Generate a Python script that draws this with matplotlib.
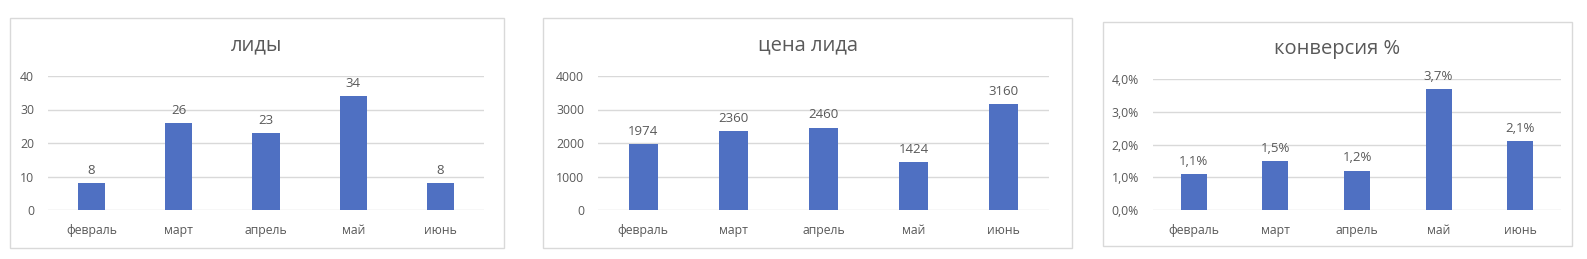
import matplotlib
matplotlib.use("Agg")
import matplotlib.pyplot as plt
from matplotlib.patches import Rectangle
from matplotlib.ticker import FuncFormatter

plt.rcParams['font.family'] = ['Open Sans', 'DejaVu Sans']

months = ["февраль", "март", "апрель", "май", "июнь"]
leads = [8, 26, 23, 34, 8]
lead_price = [1974, 2360, 2460, 1424, 3160]
conversion = [1.1, 1.5, 1.2, 3.7, 2.1]  # percent

titles = ["лиды", "цена лида", "конверсия %"]

BAR = "#4F70C2"
TXT = "#595959"
GRID = "#D9D9D9"

W, H = 1587, 259
fig = plt.figure(figsize=(W / 100, H / 100), dpi=100)

def px_axes(x0, x1, ytop, ybot):
    return fig.add_axes([x0 / W, (H - ybot) / H, (x1 - x0) / W, (ybot - ytop) / H])

def border(x0, x1, ytop, ybot):
    fig.patches.append(Rectangle((x0 / W, (H - ybot) / H), (x1 - x0) / W, (ybot - ytop) / H,
                                 transform=fig.transFigure, fill=False, edgecolor=GRID, lw=1.0))

specs = [
    dict(box=(10, 504, 18, 248), ax=(48, 484, 76, 210), data=leads, ylim=40, step=10,
         fmt=lambda v: f"{int(v)}", lab=lambda v: f"{v}", title_y=45, bw=0.31),
    dict(box=(543, 1072, 18, 248), ax=(598, 1049, 76, 210), data=lead_price, ylim=4000, step=1000,
         fmt=lambda v: f"{int(v)}", lab=lambda v: f"{v}", title_y=45, bw=0.32),
    dict(box=(1103, 1572, 22, 246), ax=(1153, 1561, 79, 210), data=conversion, ylim=4.0, step=1.0,
         fmt=lambda v: f"{v:.1f}%".replace(".", ","), lab=lambda v: f"{v:.1f}%".replace(".", ","),
         title_y=49, bw=0.32),
]

for s, title in zip(specs, titles):
    border(*s["box"])
    ax = px_axes(*s["ax"])
    x = list(range(len(months)))
    ax.bar(x, s["data"], width=s["bw"], color=BAR, zorder=3)
    ax.set_xlim(-0.5, len(months) - 0.5)
    ax.set_ylim(0, s["ylim"])
    ticks = [i * s["step"] for i in range(5)]
    ax.set_yticks(ticks)
    ax.yaxis.set_major_formatter(FuncFormatter(lambda v, p, f=s["fmt"]: f(v)))
    ax.set_xticks(x)
    ax.set_xticklabels(months)
    for sp in ax.spines.values():
        sp.set_visible(False)
    ax.grid(axis="y", color=GRID, lw=1.0, zorder=0)
    ax.tick_params(axis="both", length=0, labelsize=8.8, colors=TXT)
    ax.tick_params(axis="y", pad=10)
    ax.tick_params(axis="x", pad=10)
    for xi, v in zip(x, s["data"]):
        ax.annotate(s["lab"](v), (xi, v), xytext=(0, 4.5), textcoords="offset points",
                    ha="center", va="bottom", fontsize=9.5, color=TXT)
    x0, x1, _, _ = s["box"]
    fig.text(((x0 + x1) / 2) / W, (H - s["title_y"]) / H, title, ha="center", va="center",
             fontsize=14.5, color=TXT)

fig.savefig("out.png", dpi=100, facecolor="white")
